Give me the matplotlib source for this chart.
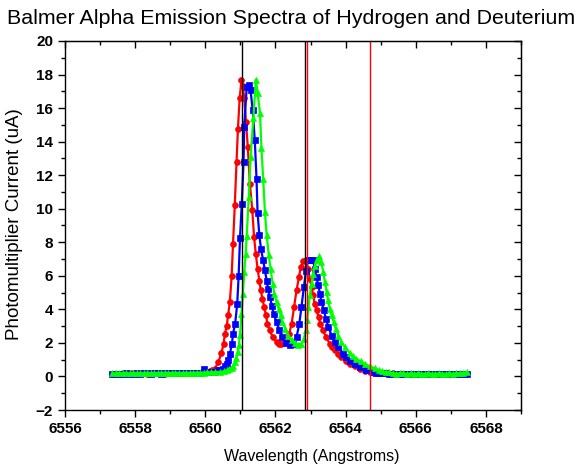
import numpy as np
import matplotlib
matplotlib.use("Agg")
import matplotlib.pyplot as plt
from matplotlib.ticker import MultipleLocator

# ---------------- data ----------------
left_tail_x = [6557.35, 6557.45, 6557.55, 6557.65, 6557.75, 6557.85, 6557.95, 6558.05,
               6558.15, 6558.25, 6558.35, 6558.45, 6558.55, 6558.65, 6558.75, 6558.85,
               6558.95, 6559.05, 6559.15, 6559.25, 6559.35, 6559.45, 6559.55, 6559.65,
               6559.75, 6559.85, 6559.95, 6560.05]
right_tail_x = [6564.95, 6565.05, 6565.15, 6565.25, 6565.35, 6565.45, 6565.55, 6565.65,
                6565.75, 6565.85, 6565.95, 6566.05, 6566.15, 6566.25, 6566.35, 6566.45,
                6566.55, 6566.65, 6566.75, 6566.85, 6566.95, 6567.05, 6567.15, 6567.25,
                6567.35, 6567.45]

red_left = [0.15, 0.17, 0.16, 0.18, 0.17, 0.19, 0.18, 0.17, 0.2, 0.18, 0.17, 0.19, 0.2, 0.18,
            0.19, 0.17, 0.2, 0.19, 0.18, 0.2, 0.21, 0.19, 0.2, 0.22, 0.21, 0.23, 0.25, 0.28]
red_core_x = [6560.13, 6560.2, 6560.27, 6560.37, 6560.46, 6560.52, 6560.56, 6560.61, 6560.65,
              6560.7, 6560.75, 6560.79, 6560.84, 6560.89, 6560.93, 6560.98, 6561.03, 6561.07,
              6561.11, 6561.16, 6561.21, 6561.27, 6561.34, 6561.39, 6561.44, 6561.49, 6561.54,
              6561.58, 6561.63, 6561.68, 6561.73, 6561.77, 6561.84, 6561.92, 6562.03, 6562.1,
              6562.17, 6562.24, 6562.3, 6562.39, 6562.46, 6562.53, 6562.6, 6562.67, 6562.72,
              6562.79, 6562.87, 6562.93, 6562.98, 6563.03, 6563.07, 6563.12, 6563.17, 6563.23,
              6563.28, 6563.36, 6563.44, 6563.55, 6563.62, 6563.69, 6563.78, 6563.88, 6564.0,
              6564.12, 6564.26, 6564.4, 6564.55, 6564.69, 6564.82]
red_core = [0.33, 0.38, 0.46, 0.85, 1.4, 1.95, 2.55, 3.0, 3.64, 4.46, 5.96, 7.91, 10.2, 12.78,
            14.77, 16.6, 17.65, 17.3, 16.6, 15.2, 13.7, 11.5, 9.9, 8.3, 7.3, 6.42, 5.72, 5.13,
            4.63, 4.13, 3.64, 3.14, 2.74, 2.34, 2.05, 1.96, 1.91, 2.0, 2.15, 2.55, 3.14, 4.13,
            5.13, 5.92, 6.52, 6.88, 6.92, 6.42, 5.83, 5.33, 4.83, 4.33, 3.94, 3.54, 3.14, 2.74,
            2.34, 1.95, 1.75, 1.55, 1.35, 1.15, 0.95, 0.76, 0.6, 0.46, 0.35, 0.26, 0.22]
red_right = [0.2, 0.19, 0.18, 0.17, 0.18, 0.16, 0.17, 0.15, 0.16, 0.14, 0.15, 0.16, 0.14, 0.15,
             0.13, 0.15, 0.14, 0.13, 0.15, 0.14, 0.13, 0.14, 0.15, 0.13, 0.14, 0.16]

blue_left = [0.16, 0.15, 0.17, 0.16, 0.18, 0.17, 0.16, 0.18, 0.17, 0.19, 0.18, 0.16, 0.18, 0.19,
             0.17, 0.18, 0.19, 0.18, 0.2, 0.19, 0.18, 0.2, 0.19, 0.21, 0.2, 0.22, 0.46, 0.24]
blue_core_x = [6560.15, 6560.25, 6560.37, 6560.45, 6560.51, 6560.56, 6560.61, 6560.66, 6560.7,
               6560.76, 6560.79, 6560.85, 6560.91, 6560.95, 6560.99, 6561.04, 6561.09, 6561.11,
               6561.18, 6561.24, 6561.29, 6561.35, 6561.41, 6561.46, 6561.49, 6561.54, 6561.59,
               6561.65, 6561.7, 6561.75, 6561.79, 6561.84, 6561.9, 6561.95, 6562.03, 6562.11,
               6562.2, 6562.3, 6562.41, 6562.5, 6562.6, 6562.68, 6562.74, 6562.81, 6562.87,
               6562.93, 6563.01, 6563.07, 6563.12, 6563.17, 6563.22, 6563.27, 6563.31, 6563.38,
               6563.44, 6563.51, 6563.6, 6563.7, 6563.79, 6563.93, 6564.02, 6564.12, 6564.26,
               6564.4, 6564.58, 6564.78, 6564.88]
blue_core = [0.25, 0.28, 0.36, 0.4, 0.46, 0.6, 0.76, 1.0, 1.35, 1.95, 2.55, 3.14, 4.33, 6.0,
             8.27, 10.3, 12.8, 14.9, 17.25, 17.35, 17.05, 15.9, 14.1, 11.8, 9.76, 8.43, 7.57,
             6.92, 6.32, 5.72, 5.23, 4.73, 4.23, 3.74, 3.24, 2.78, 2.34, 1.99, 1.9, 1.95, 2.34,
             3.14, 4.13, 5.32, 6.3, 6.96, 6.96, 6.96, 6.42, 5.92, 5.43, 4.93, 4.43, 3.94, 3.44,
             2.94, 2.44, 2.05, 1.75, 1.35, 1.15, 0.95, 0.72, 0.55, 0.38, 0.26, 0.22]
blue_right = [0.2, 0.19, 0.18, 0.17, 0.16, 0.17, 0.15, 0.16, 0.14, 0.15, 0.16, 0.14, 0.13, 0.15,
              0.14, 0.12, 0.14, 0.13, 0.15, 0.12, 0.14, 0.13, 0.12, 0.14, 0.13, 0.15]

green_left = [0.2, 0.18, 0.19, 0.2, 0.18, 0.19, 0.21, 0.2, 0.19, 0.2, 0.21, 0.2, 0.19, 0.21,
              0.2, 0.22, 0.2, 0.21, 0.22, 0.21, 0.2, 0.22, 0.21, 0.22, 0.23, 0.22, 0.23, 0.24]
green_core_x = [6560.15, 6560.27, 6560.42, 6560.52, 6560.61, 6560.68, 6560.75, 6560.8, 6560.84,
                6560.88, 6560.92, 6560.96, 6560.99, 6561.03, 6561.07, 6561.11, 6561.15, 6561.18,
                6561.24, 6561.29, 6561.37, 6561.44, 6561.49, 6561.56, 6561.6, 6561.65, 6561.7,
                6561.75, 6561.81, 6561.86, 6561.92, 6561.97, 6562.03, 6562.09, 6562.15, 6562.2,
                6562.28, 6562.36, 6562.46, 6562.55, 6562.65, 6562.74, 6562.81, 6562.87, 6562.9,
                6562.94, 6562.98, 6563.03, 6563.07, 6563.12, 6563.17, 6563.24, 6563.31, 6563.36,
                6563.41, 6563.46, 6563.5, 6563.55, 6563.6, 6563.66, 6563.72, 6563.79, 6563.88,
                6563.98, 6564.12, 6564.22, 6564.31, 6564.43, 6564.55, 6564.69, 6564.83]
green_core = [0.24, 0.25, 0.26, 0.3, 0.36, 0.42, 0.52, 0.65, 0.85, 1.1, 1.45, 1.9, 2.5, 3.7,
              4.9, 6.2, 7.3, 8.4, 10.7, 13.1, 15.4, 17.7, 16.9, 15.7, 13.6, 11.8, 9.8, 8.41,
              7.22, 6.42, 5.53, 4.93, 4.43, 4.04, 3.64, 3.24, 2.84, 2.44, 2.15, 1.99, 1.9, 1.95,
              2.25, 2.74, 3.34, 4.13, 4.83, 5.53, 6.12, 6.6, 6.92, 7.16, 6.82, 6.22, 5.62, 5.03,
              4.53, 4.04, 3.64, 3.24, 2.84, 2.44, 2.05, 1.75, 1.39, 1.2, 1.05, 0.9, 0.76, 0.6,
              0.49]
green_right = [0.38, 0.32, 0.26, 0.24, 0.2, 0.17, 0.19, 0.18, 0.17, 0.18, 0.16, 0.18, 0.17,
               0.16, 0.18, 0.17, 0.16, 0.18, 0.17, 0.16, 0.18, 0.17, 0.18, 0.19, 0.2, 0.26]

black_lines = [6561.06, 6562.83]
red_lines = [6562.89, 6564.69]

title = "Balmer Alpha Emission Spectra of Hydrogen and Deuterium"
xlabel = "Wavelength (Angstroms)"
ylabel = "Photomultiplier Current (uA)"

# ---------------- figure ----------------
plt.rcParams['font.family'] = ['Liberation Sans', 'DejaVu Sans']
fig = plt.figure(figsize=(5.82, 4.74), dpi=100)
ax = fig.add_axes([65/582, 1-410/474, (521-65)/582, (410-41)/474])

series = [
    (red_left, red_core_x, red_core, red_right, '#FF0000', 'o', 4.2),
    (blue_left, blue_core_x, blue_core, blue_right, '#0000FF', 's', 4.0),
    (green_left, green_core_x, green_core, green_right, '#00FF00', '^', 4.6),
]
for lv, cx, cv, rv, col, mk, ms in series:
    lx = [x for x in left_tail_x if x < cx[0]]
    xs = lx + cx + right_tail_x
    ys = lv[:len(lx)] + cv + rv
    ax.plot(xs, ys, color=col, marker=mk, markersize=ms, linewidth=1.6,
            markeredgewidth=0.5, markeredgecolor=col)

for v in black_lines:
    ax.axvline(v, color='black', linewidth=1.0)
for v in red_lines:
    ax.axvline(v, color='#FF0000', linewidth=1.0)

ax.set_xlim(6556, 6569)
ax.set_ylim(-2, 20)
ax.xaxis.set_major_locator(MultipleLocator(2))
ax.xaxis.set_minor_locator(MultipleLocator(1))
ax.yaxis.set_major_locator(MultipleLocator(2))
ax.yaxis.set_minor_locator(MultipleLocator(1))
ax.tick_params(which='both', direction='out', width=1.0)
ax.tick_params(which='major', length=5)
ax.tick_params(which='minor', length=3)
ax.tick_params(axis='both', labelsize=11)
for lab in ax.get_xticklabels() + ax.get_yticklabels():
    lab.set_fontweight('bold')
# mirrored ticks on top/right (inward)
axt = ax.secondary_xaxis('top')
axt.xaxis.set_major_locator(MultipleLocator(2))
axt.xaxis.set_minor_locator(MultipleLocator(1))
axt.tick_params(which='both', direction='in', labeltop=False, width=1.0)
axt.tick_params(which='major', length=5)
axt.tick_params(which='minor', length=3)
axr = ax.secondary_yaxis('right')
axr.yaxis.set_major_locator(MultipleLocator(2))
axr.yaxis.set_minor_locator(MultipleLocator(1))
axr.tick_params(which='both', direction='in', labelright=False, width=1.0)
axr.tick_params(which='major', length=5)
axr.tick_params(which='minor', length=3)
for sp in ax.spines.values():
    sp.set_linewidth(1.0)

fig.text(312/582, 1-456/474, xlabel, ha='center', va='center', fontsize=11.5)
fig.text(15/582, 1-224/474, ylabel, ha='center', va='center', rotation=90, fontsize=13.5)
fig.text(291/582, 1-18/474, title, ha='center', va='center', fontsize=15.4)

fig.savefig('out.png', dpi=100)
